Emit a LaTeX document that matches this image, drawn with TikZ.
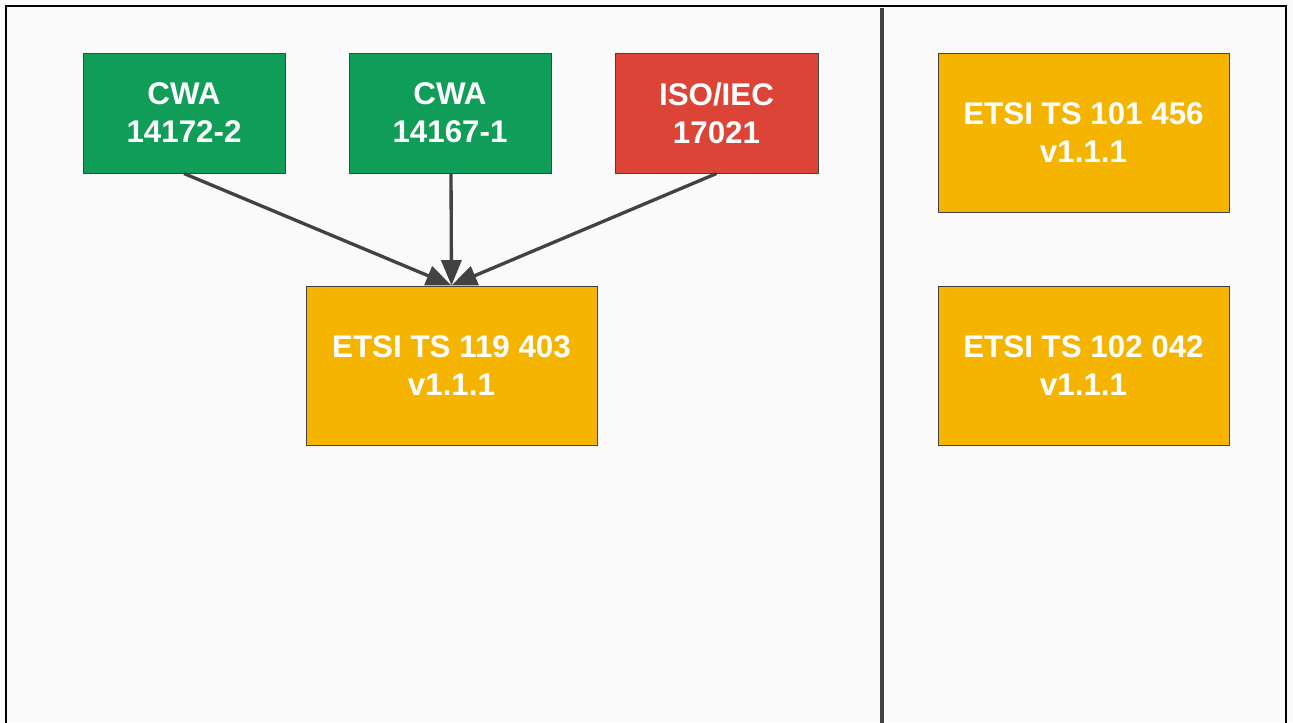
\documentclass[tikz,border=0pt]{standalone}
\usepackage{fontspec}
\setmainfont{Liberation Sans}
\usetikzlibrary{arrows.meta}
\definecolor{bg}{HTML}{FAFAFA}
\definecolor{ggreen}{HTML}{0F9D58}
\definecolor{gred}{HTML}{DB4437}
\definecolor{gyellow}{HTML}{F4B400}
\definecolor{dgray}{HTML}{424242}
\begin{document}
\begin{tikzpicture}[x=0.75pt,y=-0.75pt,
  box/.style={draw=dgray,line width=0.75pt,text=white,align=center,
    font=\fontsize{23.5}{28.5}\selectfont\bfseries,inner sep=0pt},
  conn/.style={draw=dgray,line width=2.5pt,-{Triangle[length=19pt,width=15pt]}}]
\useasboundingbox (0,0) rectangle (1293,722);
\fill[bg] (0,0) rectangle (1293,722);
\draw[line width=2.2pt,black] (6,740) -- (6,6) -- (1286,6) -- (1286,740);
\draw[line width=3.4pt,dgray] (882,8) -- (882,740);
\node[box,fill=ggreen,minimum width=202*0.75pt,minimum height=120*0.75pt] (a) at (184,113) {CWA\\14172-2};
\node[box,fill=ggreen,minimum width=202*0.75pt,minimum height=120*0.75pt] (b) at (450,113) {CWA\\14167-1};
\node[box,fill=gred,minimum width=203*0.75pt,minimum height=120*0.75pt] (c) at (716.5,113) {ISO/IEC\\17021};
\node[box,fill=gyellow,minimum width=291*0.75pt,minimum height=159*0.75pt] (d) at (451.5,365.5) {ETSI TS 119 403\\v1.1.1};
\node[box,fill=gyellow,minimum width=291*0.75pt,minimum height=159*0.75pt] (e) at (1083.5,132.5) {ETSI TS 101 456\\v1.1.1};
\node[box,fill=gyellow,minimum width=291*0.75pt,minimum height=159*0.75pt] (f) at (1083.5,365.5) {ETSI TS 102 042\\v1.1.1};
\draw[conn] (a.south) -- (d.north);
\draw[conn] (451,173) -- (d.north);
\draw[conn] (c.south) -- (d.north);
\end{tikzpicture}
\end{document}
